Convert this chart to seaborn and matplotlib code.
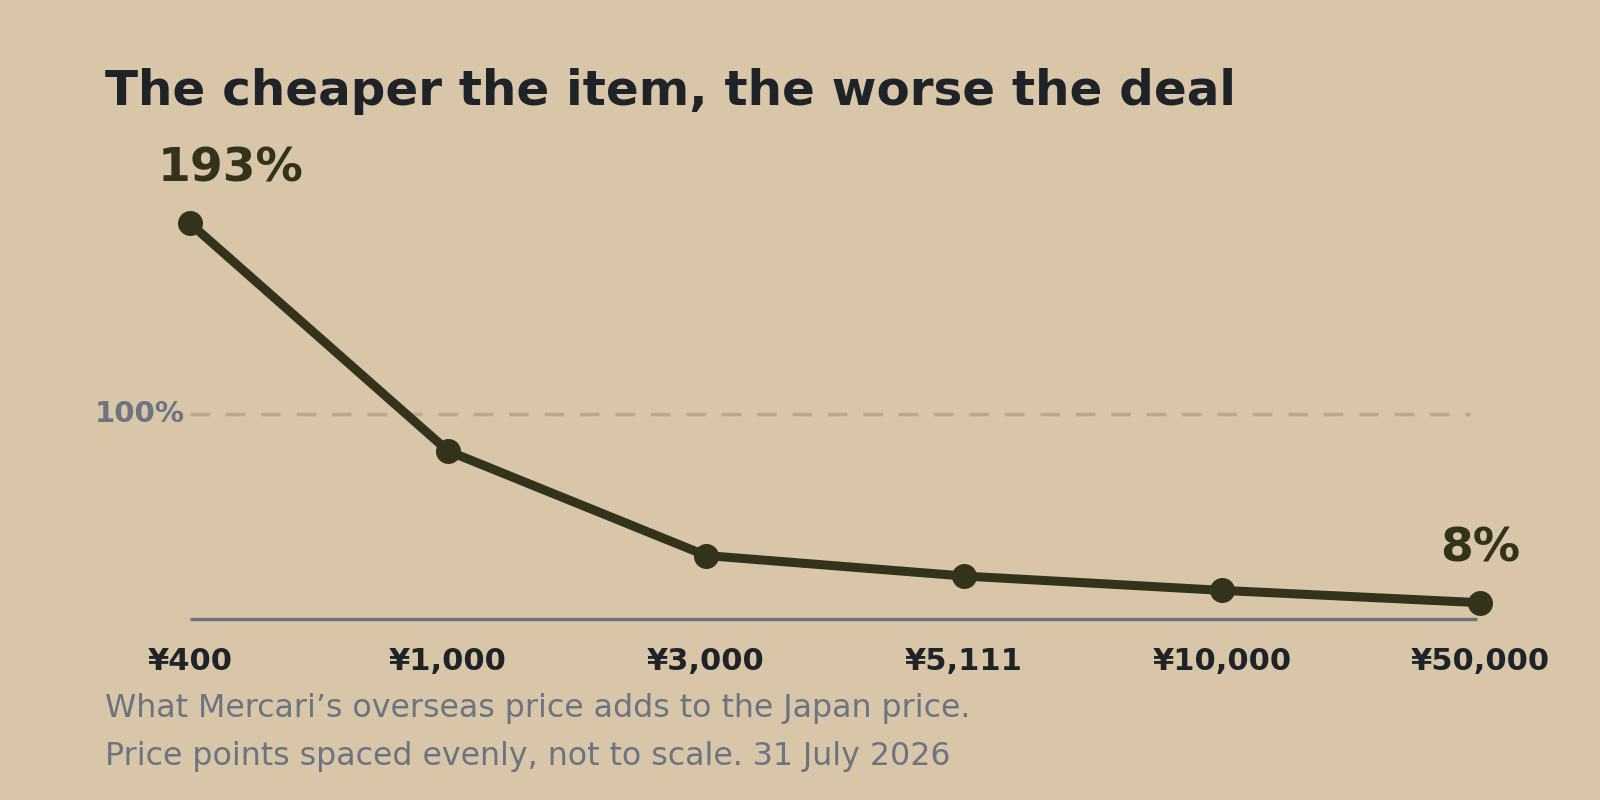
import pandas as pd
import matplotlib
matplotlib.use("Agg")
import matplotlib.pyplot as plt
import seaborn as sns

# data
prices = ["¥400", "¥1,000", "¥3,000", "¥5,111", "¥10,000", "¥50,000"]
markup_pct = [193, 82, 31, 21, 14, 8]
ref_line = 100

title = "The cheaper the item, the worse the deal"
note = ("What Mercari\u2019s overseas price adds to the Japan price.\n"
        "Price points spaced evenly, not to scale. 31 July 2026")

# Configs
BG = "#D9C5A8"
LINE = "#33331B"
DARK = "#1E2328"
GREY = "#6B7480"
AXIS = "#6D737A"
DASH = "#BBA98C"

sns.set_theme(style="white")
plt.rcParams["font.family"] = ["DejaVu Sans"]
plt.rcParams["lines.scale_dashes"] = False

df = pd.DataFrame({"pos": range(len(prices)), "price": prices, "markup": markup_pct})

fig = plt.figure(figsize=(16, 8), dpi=100, facecolor=BG)
ax = fig.add_axes([140 / 1600, 160 / 800, 1390 / 1600, 440 / 800])
ax.set_facecolor(BG)

n = len(prices) - 1
ax.hlines(ref_line, 0, n - 0.04, colors=DASH, linestyles=(0, (14, 11.5)),
          linewidth=2.5, zorder=1)
ax.hlines(0, 0, n - 0.01, colors=AXIS, linewidth=2.4, zorder=1)

sns.lineplot(data=df, x="pos", y="markup", ax=ax, color=LINE, linewidth=6.5,
             marker="o", markersize=18, markeredgewidth=0, zorder=3)

ax.set_xlim(-0.194, n + 0.194)
ax.set_ylim(-10.2, 204.4)
ax.set_xticks(df["pos"])
ax.set_xticklabels(prices, fontsize=22, fontweight="bold", color=DARK)
ax.tick_params(axis="x", length=0, pad=5)
ax.set_yticks([])
ax.set_xlabel("")
ax.set_ylabel("")
for s in ax.spines.values():
    s.set_visible(False)

# reference line label
ax.text(-0.02, ref_line, f"{ref_line}%", ha="right", va="center",
        fontsize=21, fontweight="bold", color=GREY)

# end labels
ax.annotate(f"{markup_pct[0]}%", (0, markup_pct[0]), xytext=(-32, 32),
            textcoords="offset pixels", ha="left", va="bottom",
            fontsize=34, fontweight="bold", color=LINE)
ax.annotate(f"{markup_pct[-1]}%", (n, markup_pct[-1]), xytext=(0, 31),
            textcoords="offset pixels", ha="center", va="bottom",
            fontsize=34, fontweight="bold", color=LINE)

fig.text(105 / 1600, 1 - 105 / 800, title, ha="left", va="baseline",
         fontsize=34.8, fontweight="bold", color=DARK)
fig.text(105 / 1600, 1 - 693 / 800, note, ha="left", va="top",
         fontsize=22.8, color=GREY, linespacing=1.7)

fig.savefig("out.png", dpi=100, facecolor=BG)
